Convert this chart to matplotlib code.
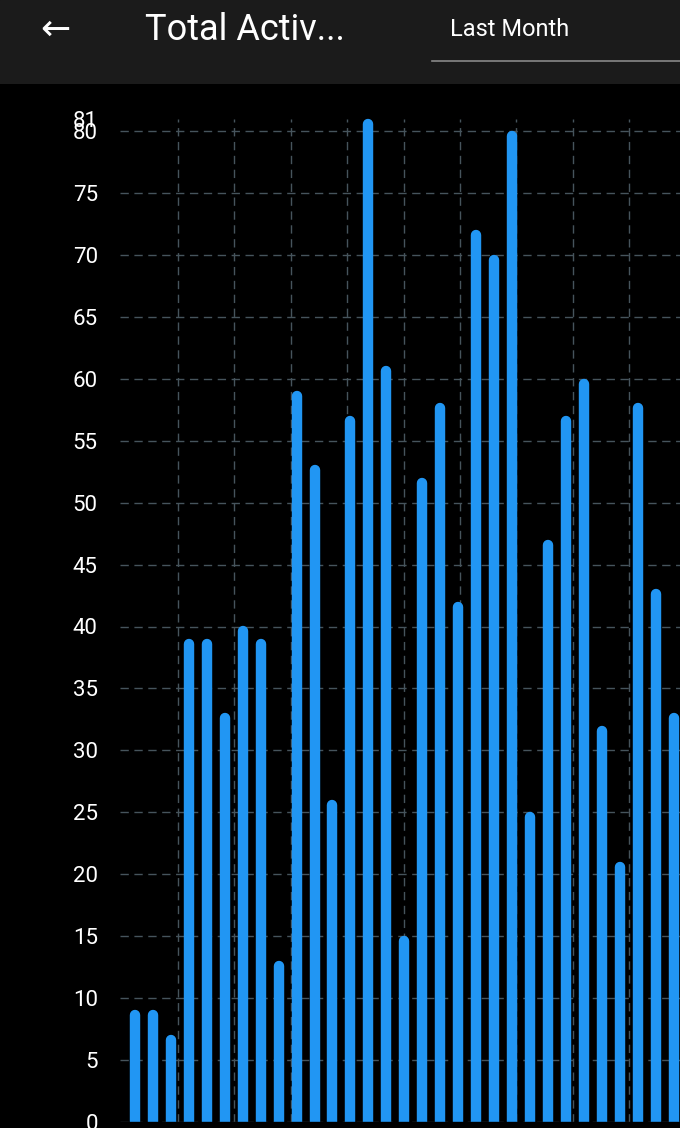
import matplotlib.pyplot as plt
import numpy as np

plt.rcParams['font.family'] = ['Roboto', 'DejaVu Sans']

values = [9, 9, 7, 39, 39, 33, 40, 39, 13, 59, 53, 26, 57, 81, 61, 15,
          52, 58, 42, 72, 70, 80, 25, 47, 57, 60, 32, 21, 58, 43, 33]
yticks = list(range(0, 85, 5)) + [81]
vgrid = [2.4 + 3.14 * k for k in range(9)]

W, H = 680, 1128
fig = plt.figure(figsize=(W / 100, H / 100), dpi=100)
fig.patch.set_facecolor('black')

# top bar
bar = fig.add_axes([0, 1 - 84 / H, 1, 84 / H])
bar.set_facecolor('#1b1b1b')
bar.set_xlim(0, W); bar.set_ylim(84, 0); bar.axis('off')
bar.add_patch(plt.Rectangle((0, 0), W, 84, color='#1b1b1b'))
bar.text(55, 30, '←', color='white', fontsize=26, ha='center', va='center',
         family=['DejaVu Sans'])
bar.text(145, 30, 'Total Activ...', color='white', fontsize=26, ha='left', va='center')
bar.text(450, 30, 'Last Month', color='white', fontsize=17, ha='left', va='center')
bar.plot([432, 680], [61, 61], color='#888888', lw=1.2)

# chart area: y=0 at pixel 1122, 80 at 131
y0, y80 = 1122, 131
ppu = (y0 - y80) / 80
top_val = 81
ax_bottom = (H - y0) / H
ax_top = (H - (y0 - ppu * top_val)) / H
left_px = 120
s = 17.95
x0 = 135
ax = fig.add_axes([left_px / W, ax_bottom, 1 - left_px / W, ax_top - ax_bottom])
ax.set_facecolor('black')
ax.set_xlim((left_px - x0) / s, (W - x0) / s)
ax.set_ylim(0, top_val)

for y in range(0, 85, 5):
    ax.axhline(y, color='#46545c', lw=1, ls=(0, (6, 4)), zorder=0)
for x in vgrid:
    ax.axvline(x, color='#46545c', lw=1, ls=(0, (6, 4)), zorder=0)

tops = np.array(values) - 0.4
ax.vlines(np.arange(len(values)), 0, tops, color='#2196F3', lw=7.5,
          capstyle='round', zorder=2, clip_on=False)
ax.add_patch(plt.Rectangle((-1, -3), 40, 3, color='black', zorder=3, clip_on=False))

ax.set_yticks(yticks)
ax.set_yticklabels([str(t) for t in yticks])
ax.tick_params(axis='y', colors='white', labelsize=16, length=0, pad=16)
ax.set_xticks([])
for sp in ax.spines.values():
    sp.set_visible(False)

fig.savefig('out.png', dpi=100, facecolor='black')
